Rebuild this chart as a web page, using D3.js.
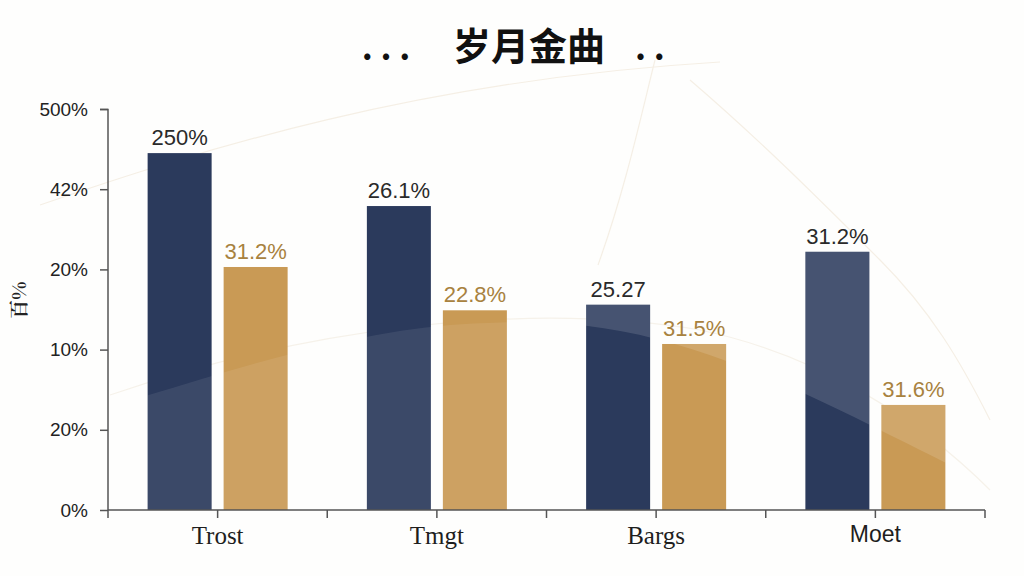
<!DOCTYPE html>
<html>
<head>
<meta charset="utf-8">
<script src="https://cdn.jsdelivr.net/npm/d3@7"></script>
<style>
  html, body { margin: 0; padding: 0; background: #fefefd; }
  svg { display: block; }
</style>
</head>
<body>
<svg id="chart"></svg>
<script>
var w = 1024;
var h = 576;

// chart data
var categories = ['Trost', 'Tmgt', 'Bargs', 'Moet'];
var series = ['a', 'b'];
var valuesA = [445, 379, 256, 322];
var valuesB = [303, 249, 207, 131];
var labelsA = ['250%', '26.1%', '25.27', '31.2%'];
var labelsB = ['31.2%', '22.8%', '31.5%', '31.6%'];
var tickValues = [0, 100, 200, 300, 400, 500];
var tickLabels = ['0%', '20%', '10%', '20%', '42%', '500%'];

var navy = '#2b3a5c';
var gold = '#c99a55';

var svg = d3.select('#chart').attr('width', w).attr('height', h);

var x = d3.scaleBand().domain(categories).range([108, 985]);
var sub = d3.scaleBand().domain(series)
  .range([x.bandwidth() / 2 - 70, x.bandwidth() / 2 + 70])
  .paddingInner(12 / 76);
var y = d3.scaleLinear().domain([0, 500]).range([510, 109]);

// faint background strokes
var bg = svg.append('g').attr('fill', 'none').attr('stroke', '#f5efe5').attr('stroke-width', 1.2);
bg.append('path').attr('d', 'M40,205 C200,150 420,80 720,62');
bg.append('path').attr('d', 'M655,60 C640,120 625,190 598,265');
bg.append('path').attr('d', 'M690,80 C760,140 820,200 880,260 C930,310 960,360 990,420');
bg.append('path').attr('d', 'M110,395 C300,330 520,300 700,330 C820,355 920,420 990,490')
  .attr('stroke', '#f6f2ea');

var data = categories.map(function (c, i) {
  return { cat: c, vals: [
    { s: 'a', v: valuesA[i], label: labelsA[i] },
    { s: 'b', v: valuesB[i], label: labelsB[i] }
  ] };
});

var groups = svg.selectAll('g.grp')
  .data(data)
  .enter()
  .append('g')
  .attr('class', 'grp')
  .attr('transform', function (d) { return 'translate(' + x(d.cat) + ',0)'; });

groups.selectAll('rect')
  .data(function (d) { return d.vals; })
  .enter()
  .append('rect')
  .attr('x', function (d) { return sub(d.s); })
  .attr('y', function (d) { return y(d.v); })
  .attr('width', sub.bandwidth())
  .attr('height', function (d) { return y(0) - y(d.v); })
  .attr('fill', function (d) { return d.s === 'a' ? navy : gold; });

// translucent sheen over the bars
var clip = svg.append('clipPath').attr('id', 'barclip');
data.forEach(function (d) {
  d.vals.forEach(function (b) {
    clip.append('rect')
      .attr('x', x(d.cat) + sub(b.s))
      .attr('y', y(b.v))
      .attr('width', sub.bandwidth())
      .attr('height', y(0) - y(b.v));
  });
});
var sheen = svg.append('g').attr('clip-path', 'url(#barclip)').attr('fill', '#ffffff');
sheen.append('path')
  .attr('d', 'M100,410 C200,380 330,335 450,325 C520,320 560,322 580,325 L580,512 L100,512 Z')
  .attr('opacity', 0.08);
sheen.append('path')
  .attr('d', 'M580,325 C680,335 780,380 870,425 C920,450 960,470 1000,490 L1000,100 L580,100 Z')
  .attr('opacity', 0.13);

// value labels
groups.selectAll('text.val')
  .data(function (d) { return d.vals; })
  .enter()
  .append('text')
  .attr('class', 'val')
  .attr('x', function (d) { return sub(d.s) + sub.bandwidth() / 2; })
  .attr('y', function (d) { return y(d.v) - 8; })
  .attr('text-anchor', 'middle')
  .style('font-family', 'Liberation Sans, Arial, sans-serif')
  .style('font-size', '22px')
  .style('fill', function (d, i) { return d.s === 'a' ? '#2a2a2a' : '#a8823f'; })
  .text(function (d) { return d.label; });

// axes
var yAxis = d3.axisLeft(y).tickValues(tickValues).tickSize(8).tickPadding(12)
  .tickFormat(function (d, i) { return tickLabels[i]; });
var gy = svg.append('g').attr('transform', 'translate(108,0)').call(yAxis);
gy.select('.domain').attr('stroke', '#555').attr('stroke-width', 1.5).attr('d', 'M-8,109.5H0V510');
gy.selectAll('.tick line').attr('stroke', '#555').attr('stroke-width', 1.5);
gy.selectAll('.tick text')
  .style('font-family', 'Liberation Sans, Arial, sans-serif')
  .style('font-size', '19px')
  .style('fill', '#222');

var xAxis = d3.axisBottom(x).tickSize(8).tickPadding(8);
var gx = svg.append('g').attr('transform', 'translate(0,510)').call(xAxis);
gx.select('.domain').attr('stroke', '#555').attr('stroke-width', 1.5).attr('d', 'M108,0H985');
gx.selectAll('.tick line').attr('stroke', '#555').attr('stroke-width', 1.5);
gx.selectAll('.tick text')
  .style('font-family', function (d) {
    return d === 'Moet' ? 'Liberation Sans, Arial, sans-serif' : 'Liberation Serif, Times New Roman, serif';
  })
  .style('font-size', function (d) { return d === 'Moet' ? '23px' : '25px'; })
  .style('fill', '#1e1e1e');

// extra ticks on the band edges
gx.selectAll('line.edge')
  .data(categories.concat(['end']))
  .enter()
  .append('line')
  .attr('class', 'edge')
  .attr('x1', function (d) { return d === 'end' ? 985 : x(d); })
  .attr('x2', function (d) { return d === 'end' ? 985 : x(d); })
  .attr('y1', 0)
  .attr('y2', 8)
  .attr('stroke', '#555')
  .attr('stroke-width', 1.5);

// y label
svg.append('text')
  .attr('transform', 'translate(26,300) rotate(-90)')
  .attr('text-anchor', 'middle')
  .style('font-family', 'Noto Serif CJK SC, Noto Sans CJK SC, serif')
  .style('font-size', '19px')
  .style('font-weight', 'bold')
  .style('fill', '#222')
  .text('百%');

// title
var title = svg.append('text')
  .attr('y', 60)
  .attr('text-anchor', 'middle')
  .style('font-family', 'Noto Sans CJK SC, sans-serif')
  .style('font-weight', 'bold')
  .style('fill', '#111');
title.append('tspan').attr('x', 386).style('font-size', '34px').text('. . .');
title.append('tspan').attr('x', 529).style('font-size', '38px').text('岁月金曲');
title.append('tspan').attr('x', 650).style('font-size', '34px').text('. .');
</script>
</body>
</html>
